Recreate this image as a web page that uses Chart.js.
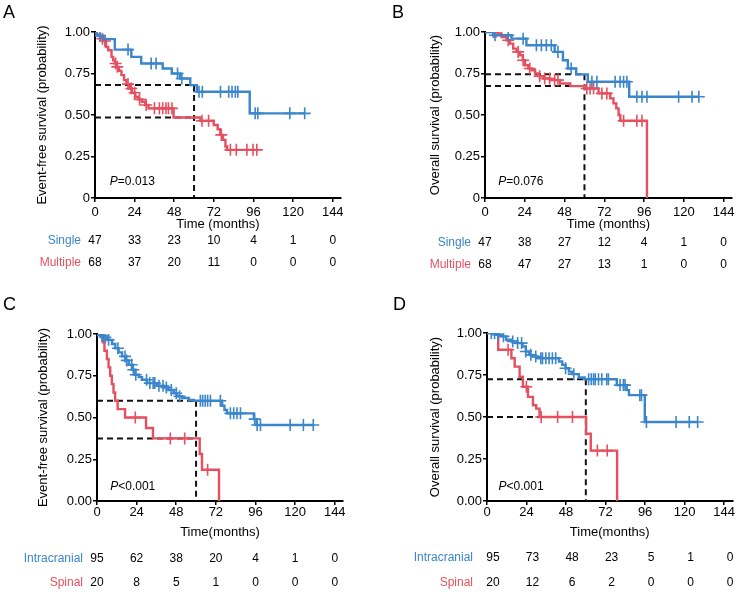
<!DOCTYPE html>
<html>
<head>
<meta charset="utf-8">
<script src="https://cdn.jsdelivr.net/npm/chart.js@4"></script>
<style>
  body { margin: 0; background: #fff; }
  #wrap { position: relative; width: 740px; height: 592px; }
  canvas { position: absolute; }
</style>
</head>
<body>
<div id="wrap">
  <canvas id="cA" width="370" height="290" style="left:0;top:0"></canvas>
  <canvas id="cB" width="370" height="290" style="left:370px;top:0"></canvas>
  <canvas id="cC" width="370" height="302" style="left:0;top:290px"></canvas>
  <canvas id="cD" width="370" height="302" style="left:370px;top:290px"></canvas>
</div>
<script>
// axis ticks
const xTicks = [0, 24, 48, 72, 96, 120, 144];
const xMax = 149;
const yVals = [0, 0.25, 0.5, 0.75, 1];
const yLabelsAB = ['0', '0.25', '0.50', '0.75', '1.00'];
const yLabelsCD = ['0.00', '0.25', '0.50', '0.75', '1.00'];

// A - event-free survival, single vs multiple (event times, survival after event, censored times)
const aSingleT = [1, 5, 12, 22, 28, 41, 46.5, 51.5, 57.7, 61.7, 93.7];
const aSingleS = [0.978, 0.957, 0.894, 0.85, 0.81, 0.78, 0.75, 0.72, 0.68, 0.64, 0.51];
const aSingleC = [3, 20, 34, 37, 50, 52.6, 63, 65, 76, 81, 83, 85, 86.5, 97, 98.6, 118, 127];
const aMultiT = [1, 3, 4, 5, 6.7, 8, 10, 11, 12, 13, 14.6, 16, 17.6, 19, 21, 22.3, 24.3, 26.3, 28.3, 30.4, 32.4, 47.6, 63.8, 71.9, 74.3, 75.9, 77.5, 79, 80];
const aMultiS = [0.985, 0.974, 0.96, 0.946, 0.91, 0.89, 0.85, 0.83, 0.81, 0.79, 0.766, 0.74, 0.71, 0.686, 0.66, 0.634, 0.61, 0.594, 0.58, 0.56, 0.54, 0.485, 0.465, 0.44, 0.414, 0.38, 0.35, 0.31, 0.29];
const aMultiC = [4.5, 6, 12.5, 13.5, 20, 22, 24, 27, 31, 36, 39, 41, 43, 44.5, 46.6, 64.8, 68.8, 76.5, 82, 85.6, 92, 95.7, 98];
const aRiskSingle = [47, 33, 23, 10, 4, 1, 0];
const aRiskMulti = [68, 37, 20, 11, 0, 0, 0];

// B - overall survival, single vs multiple
const bSingleT = [5, 16, 25, 42, 47, 50, 55, 62, 87];
const bSingleS = [0.98, 0.96, 0.92, 0.88, 0.83, 0.78, 0.745, 0.70, 0.61];
const bSingleC = [6, 14, 23, 31, 34, 37, 40, 44, 52, 64.5, 67.5, 78.5, 81.5, 83.6, 85.6, 91.6, 94.7, 97.7, 116.8, 124.9, 129];
const bMultiT = [8, 10, 13, 15, 17, 19, 21, 22.8, 24.2, 26.2, 28.2, 30.2, 32.2, 35.2, 39.3, 45.3, 51.4, 60.4, 68.5, 75.5, 77.5, 79.2, 80.6, 81.6, 97.7];
const bMultiS = [0.99, 0.97, 0.95, 0.93, 0.90, 0.88, 0.86, 0.83, 0.80, 0.78, 0.77, 0.75, 0.734, 0.72, 0.71, 0.69, 0.674, 0.66, 0.63, 0.60, 0.57, 0.54, 0.50, 0.465, 0];
const bMultiC = [5, 6.6, 14, 20, 23, 27, 33, 36, 39, 42, 44, 61.4, 63.4, 65.5, 70.5, 73.5, 83.6, 91.6, 94.7];
const bRiskSingle = [47, 38, 27, 12, 4, 1, 0];
const bRiskMulti = [68, 47, 27, 13, 1, 0, 0];

// C - event-free survival, intracranial vs spinal
const cIntraT = [2, 4, 6.1, 9.1, 11.1, 13.1, 15.2, 17.2, 19.2, 21.2, 23.2, 25.3, 27.3, 30.3, 36.4, 40.4, 43.4, 46.5, 48.5, 51.5, 55.6, 58.6, 75.8, 77.2, 78.8, 95, 96.6];
const cIntraS = [0.99, 0.98, 0.965, 0.94, 0.915, 0.89, 0.866, 0.842, 0.816, 0.786, 0.756, 0.742, 0.726, 0.706, 0.69, 0.68, 0.665, 0.645, 0.627, 0.617, 0.605, 0.60, 0.57, 0.545, 0.525, 0.49, 0.455];
const cIntraC = [3, 5, 7, 12.7, 17, 18, 21, 22, 23.5, 30, 32, 34, 35, 37.5, 40, 42, 45, 48, 50, 62.6, 64, 65.5, 67, 68.7, 74.7, 80.8, 82.8, 84.8, 86.9, 95.5, 97, 99, 117, 125, 131];
const cSpinalT = [3.5, 4.5, 6, 7, 8, 9, 10, 11, 12.5, 17, 29.7, 33.9, 62.2, 63.6, 73.9];
const cSpinalS = [0.95, 0.90, 0.85, 0.80, 0.75, 0.70, 0.65, 0.60, 0.55, 0.50, 0.4375, 0.375, 0.281, 0.1875, 0];
const cSpinalC = [23.2, 44.4, 53.1, 67];
const cRiskIntra = [95, 62, 38, 20, 4, 1, 0];
const cRiskSpinal = [20, 8, 5, 1, 0, 0, 0];

// D - overall survival, intracranial vs spinal
const dIntraT = [5.6, 8.6, 11.6, 14.6, 17.6, 21.6, 23.6, 25.7, 27.7, 30.7, 43.7, 45.7, 47.7, 49.7, 51.7, 55.7, 59.3, 78.8, 84.8, 86.2, 95.8];
const dIntraS = [0.99, 0.98, 0.96, 0.95, 0.94, 0.92, 0.89, 0.87, 0.86, 0.85, 0.83, 0.81, 0.79, 0.77, 0.755, 0.735, 0.725, 0.69, 0.66, 0.63, 0.47];
const dIntraC = [2.6, 4.6, 6.6, 10, 15.6, 18.6, 21, 23.6, 26.6, 29.6, 32.7, 33.7, 35.7, 37.7, 39.7, 41.7, 47.7, 52.7, 61.7, 63.3, 64.7, 65.7, 67.7, 69.7, 72.7, 73.7, 80.8, 82.8, 83.8, 92.8, 93.8, 96.8, 114.8, 122.8, 127.9];
const dSpinalT = [6.8, 14.8, 16.8, 19.8, 21.8, 24.9, 27.9, 29.9, 31.9, 60.2, 63, 79];
const dSpinalS = [0.90, 0.85, 0.80, 0.74, 0.68, 0.62, 0.57, 0.55, 0.50, 0.40, 0.30, 0];
const dSpinalC = [12.8, 23.9, 32.9, 42.9, 51.9, 67, 73];
const dRiskIntra = [95, 73, 48, 23, 5, 1, 0];
const dRiskSpinal = [20, 12, 6, 2, 0, 0, 0];

const landmark = 60;
const BLUE = '#3b86cb';
const RED = '#e4505f';
const FONT = '"Liberation Sans", Arial, sans-serif';

Chart.defaults.font.family = FONT;
Chart.defaults.color = '#000';

// survival value of the step curve at time t
function survAt(T, S, t) {
  let s = 1;
  for (let i = 0; i < T.length; i++) if (T[i] <= t) s = S[i];
  return s;
}

function curve(T, S, C) {
  const pts = [{x: 0, y: 1}];
  T.forEach((t, i) => pts.push({x: t, y: S[i]}));
  const last = T[T.length - 1];
  const end = Math.max(last, C[C.length - 1]);
  if (end > last) pts.push({x: end, y: survAt(T, S, end)});
  return pts;
}

function dash(pts) {
  return {data: pts, borderColor: '#111', borderWidth: 2, borderDash: [6, 4], pointRadius: 0, fill: false};
}

function makePanel(cfg) {
  const a = cfg.area;
  const datasets = [];
  cfg.groups.forEach(g => {
    datasets.push({data: curve(g.T, g.S, g.C), borderColor: g.color, borderWidth: 2.4, pointRadius: 0, stepped: true, fill: false});
    datasets.push({data: g.C.map(t => ({x: t, y: survAt(g.T, g.S, t)})), borderColor: g.color, backgroundColor: g.color,
      showLine: false, pointStyle: 'cross', pointRadius: 6, pointHoverRadius: 6, pointBorderWidth: 1.6});
  });
  // dashed landmark lines at 60 months
  const sL = cfg.groups.map(g => survAt(g.T, g.S, landmark));
  sL.forEach(s => datasets.push(dash([{x: 0, y: s}, {x: landmark, y: s}])));
  datasets.push(dash([{x: landmark, y: Math.max(...sL)}, {x: landmark, y: 0}]));

  const xH = cfg.xTitleY - a.bottom + 8;
  const axisGrid = {display: true, drawOnChartArea: false, drawTicks: true, tickLength: 4, color: '#000', lineWidth: 1.5};
  const axisBorder = {display: true, color: '#000', width: 2};

  const overlay = {
    id: 'overlay',
    afterDraw(chart) {
      const ctx = chart.ctx, xs = chart.scales.x, ys = chart.scales.y;
      ctx.save();
      ctx.fillStyle = '#000';
      ctx.textAlign = 'left';
      ctx.textBaseline = 'alphabetic';
      ctx.font = '18px ' + FONT;
      ctx.fillText(cfg.letter, cfg.letterPos[0], cfg.letterPos[1]);

      const px = xs.getPixelForValue(cfg.pAt[0]), py = ys.getPixelForValue(cfg.pAt[1]);
      ctx.textBaseline = 'middle';
      ctx.font = 'italic 12px ' + FONT;
      ctx.fillText('P', px, py);
      const w = ctx.measureText('P').width;
      ctx.font = '12px ' + FONT;
      ctx.fillText(cfg.pText, px + w, py);

      cfg.groups.forEach((g, r) => {
        const y = cfg.riskY[r];
        ctx.fillStyle = g.color;
        ctx.textAlign = 'right';
        ctx.fillText(g.name, xs.getPixelForValue(0) - 14, y);
        ctx.fillStyle = '#000';
        ctx.textAlign = 'center';
        g.risk.forEach((n, i) => ctx.fillText(String(n), xs.getPixelForValue(xTicks[i]) + cfg.riskShift, y));
      });
      ctx.restore();
    }
  };

  new Chart(document.getElementById(cfg.id), {
    type: 'line',
    data: {datasets},
    plugins: [overlay],
    options: {
      responsive: false,
      animation: false,
      devicePixelRatio: 1,
      layout: {padding: {left: 0, top: a.top, right: cfg.w - a.right, bottom: cfg.h - a.bottom - xH}},
      plugins: {legend: {display: false}, tooltip: {enabled: false}},
      scales: {
        x: {
          type: 'linear', min: 0, max: xMax,
          afterBuildTicks: s => { s.ticks = xTicks.map(v => ({value: v})); },
          afterFit: s => { s.height = xH; },
          ticks: {font: {size: 13}, color: '#000', padding: cfg.xPad, maxRotation: 0, autoSkip: false},
          grid: axisGrid, border: axisBorder,
          title: {display: true, text: cfg.xTitle, font: {size: 13}, color: '#000', padding: {top: 0, bottom: 0}}
        },
        y: {
          type: 'linear', min: 0, max: 1,
          afterBuildTicks: s => { s.ticks = yVals.map(v => ({value: v})); },
          afterFit: s => { s.width = a.left; },
          ticks: {font: {size: 13}, color: '#000', padding: 1, callback: v => cfg.yLabels[yVals.indexOf(v)]},
          grid: axisGrid, border: axisBorder,
          title: {display: true, text: cfg.yTitle, font: {size: 13}, color: '#000', padding: {top: cfg.yTitleX - 7.8, bottom: 0}}
        }
      }
    }
  });
}

makePanel({
  id: 'cA', w: 370, h: 290, area: {left: 95, right: 341, top: 32, bottom: 198},
  xTitle: 'Time (months)', xTitleY: 224, xPad: 3,
  yTitle: 'Event-free survival (probability)', yTitleX: 42, yLabels: yLabelsAB,
  letter: 'A', letterPos: [3, 18], pAt: [9, 0.1], pText: '=0.013',
  riskY: [241, 263], riskShift: 0,
  groups: [
    {name: 'Single', color: BLUE, T: aSingleT, S: aSingleS, C: aSingleC, risk: aRiskSingle},
    {name: 'Multiple', color: RED, T: aMultiT, S: aMultiS, C: aMultiC, risk: aRiskMulti}
  ]
});

makePanel({
  id: 'cB', w: 370, h: 290, area: {left: 115, right: 362, top: 32, bottom: 198},
  xTitle: 'Time (months)', xTitleY: 224, xPad: 3,
  yTitle: 'Overall survival (probability)', yTitleX: 65, yLabels: yLabelsAB,
  letter: 'B', letterPos: [22, 18], pAt: [8, 0.1], pText: '=0.076',
  riskY: [243, 265], riskShift: 0,
  groups: [
    {name: 'Single', color: BLUE, T: bSingleT, S: bSingleS, C: bSingleC, risk: bRiskSingle},
    {name: 'Multiple', color: RED, T: bMultiT, S: bMultiS, C: bMultiC, risk: bRiskMulti}
  ]
});

makePanel({
  id: 'cC', w: 370, h: 302, area: {left: 97, right: 343, top: 44, bottom: 211},
  xTitle: 'Time(months)', xTitleY: 242, xPad: 0,
  yTitle: 'Event-free survival (probability)', yTitleX: 43, yLabels: yLabelsCD,
  letter: 'C', letterPos: [3, 20], pAt: [8, 0.088], pText: '<0.001',
  riskY: [269, 293], riskShift: 0,
  groups: [
    {name: 'Intracranial', color: BLUE, T: cIntraT, S: cIntraS, C: cIntraC, risk: cRiskIntra},
    {name: 'Spinal', color: RED, T: cSpinalT, S: cSpinalS, C: cSpinalC, risk: cRiskSpinal}
  ]
});

makePanel({
  id: 'cD', w: 370, h: 302, area: {left: 117, right: 364, top: 43, bottom: 211},
  xTitle: 'Time(months)', xTitleY: 242, xPad: 0,
  yTitle: 'Overall survival (probability)', yTitleX: 65, yLabels: yLabelsCD,
  letter: 'D', letterPos: [23, 20], pAt: [7, 0.085], pText: '<0.001',
  riskY: [268, 293], riskShift: 6,
  groups: [
    {name: 'Intracranial', color: BLUE, T: dIntraT, S: dIntraS, C: dIntraC, risk: dRiskIntra},
    {name: 'Spinal', color: RED, T: dSpinalT, S: dSpinalS, C: dSpinalC, risk: dRiskSpinal}
  ]
});
</script>
</body>
</html>
